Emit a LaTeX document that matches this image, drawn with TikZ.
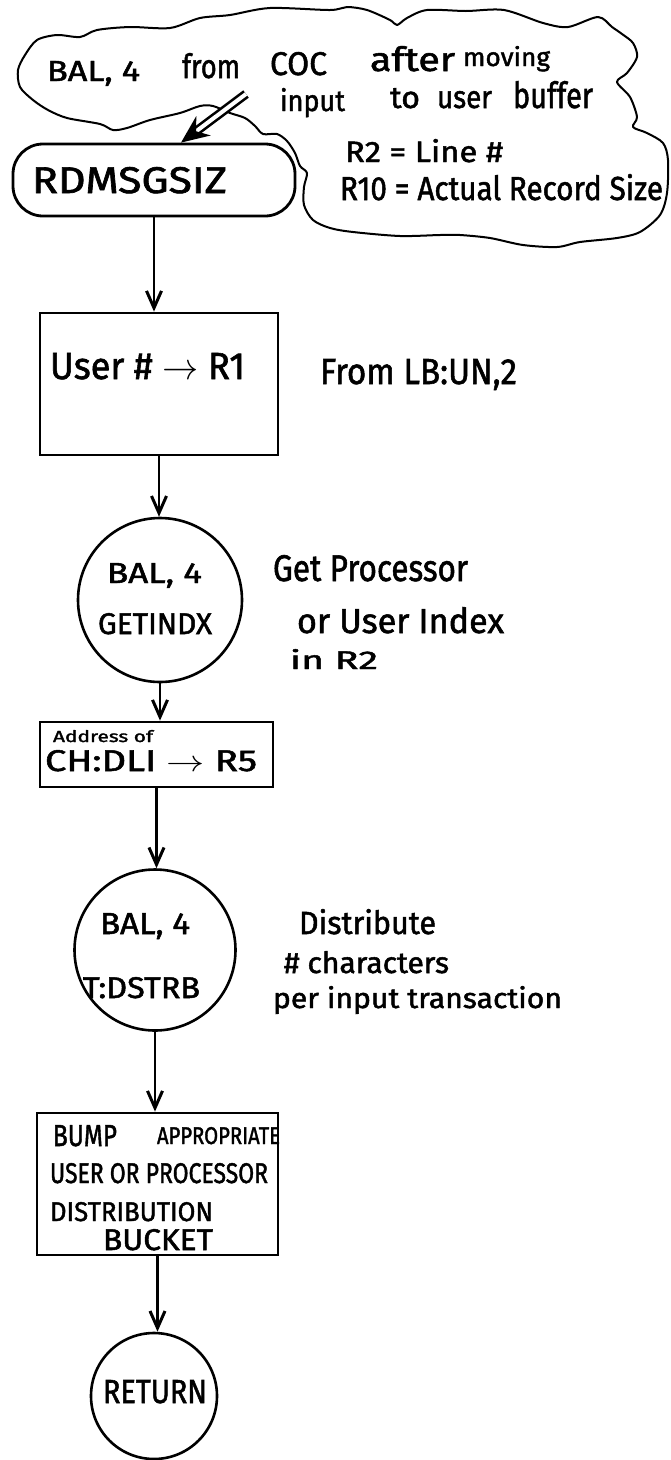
\documentclass[tikz,border=0pt]{standalone}
\usepackage{fontspec}
\setmainfont{Fira Sans}[AutoFakeBold=1.6]
\usepackage{graphicx}
\usetikzlibrary{arrows.meta,calc}
\tikzset{
  box/.style={draw, line width=2.8pt, inner sep=0pt},
  conn/.style={draw, line width=2.6pt, circle, inner sep=0pt},
  flow/.style={line width=2.6pt, -{Straight Barb[length=17pt,width=15pt,line width=3pt]}},
  lbl/.style={anchor=base west, inner sep=0pt, outer sep=0pt, font=\bfseries},
  cloudline/.style={line width=2pt, line join=round},
  callin/.style={line width=2.6pt, double distance=4pt, -{Stealth[length=28pt,width=24pt]}}
}
\newcommand\fitt[3]{\resizebox{#1pt}{#2pt}{#3}}
\begin{document}
\begin{tikzpicture}[x=1pt,y=-1pt]
\useasboundingbox (0,0) rectangle (670,1460);

% cloud
\draw[cloudline] plot[smooth cycle, tension=0.5] coordinates {
 (25,55) (37,40) (57,35) (80,37) (97,30) (130,27) (170,28) (200,18) (230,15)
 (270,8) (330,10) (347,7) (367,10) (390,20) (397,25) (407,18) (427,10) (466,11)
 (504,10) (543,23) (568,27) (598,17) (612,27) (622,34) (633,43) (637,57) (627,73)
 (617,82) (630,97) (637,117) (633,127) (647,133) (663,143) (668,160) (667,193)
 (660,215) (640,232) (617,238) (580,242) (557,247) (523,245) (490,238) (460,235)
 (440,235) (400,236) (353,232) (330,228) (313,220) (304,205) (304,187) (307,173)
 (300,166) (295,153) (287,141) (277,134) (263,134) (255,126) (245,118) (230,113)
 (213,106) (200,106) (180,113) (150,120) (127,128) (113,130) (100,124) (67,118)
 (48,110) (33,100) (20,87) (18,70)};

% cloud texts
\node[lbl] (c1) at (47,81) {\fitt{93}{20}{BAL, 4}};
\node[lbl] (c2) at (182,78) {\fitt{58}{25}{from}};
\node[lbl] (c3) at (270,75) {\fitt{57}{23}{COC}};
\node[lbl] (c4) at (370,71) {\fitt{85}{25}{after}};
\node[lbl] (c5) at (463,66) {\fitt{87}{20}{moving}};
\node[lbl] (c6) at (280,111) {\fitt{65}{23}{input}};
\node[lbl] (c7) at (390,108) {\fitt{30}{20}{to}};
\node[lbl] (c8) at (437,108) {\fitt{55}{17}{user}};
\node[lbl] (c9) at (513,108) {\fitt{80}{27}{buffer}};
\node[lbl] (c10) at (345,162) {\fitt{158}{23}{R2 = Line \#}};
\node[lbl] (c11) at (340,200) {\fitt{323}{26}{R10 = Actual Record Size}};

% flow nodes
\node[box, rounded corners=30pt, minimum width=282pt, minimum height=72pt] (start) at (154,180) {};
\node[box, minimum width=238pt, minimum height=142pt] (user) at (159,384) {};
\node[conn, minimum size=164pt] (getidx) at (160,600) {};
\node[box, minimum width=233pt, minimum height=65pt] (dli) at (156.5,754.5) {};
\node[conn, minimum size=161pt] (dstrb) at (155,950) {};
\node[box, minimum width=241pt, minimum height=142pt] (bump) at (157.5,1184) {};
\node[conn, minimum size=126pt] (ret) at (154,1396) {};

% texts in/near nodes
\node[lbl] (tstart) at (32,193) {\fitt{195}{26}{RDMSGSIZ}};
\node[lbl] (tuser) at (50,379) {\fitt{195}{26}{User \# $\rightarrow$ R1}};
\node[lbl] (nuser) at (320,384) {\fitt{197}{25}{From LB:UN,2}};
\node[lbl] (tg1) at (107,583) {\fitt{95}{20}{BAL, 4}};
\node[lbl] (tg2) at (98,634) {\fitt{114}{21}{GETINDX}};
\node[lbl] (ng1) at (273,581) {\fitt{195}{26}{Get Processor}};
\node[lbl] (ng2) at (297,633) {\fitt{207}{26}{or User Index}};
\node[lbl] (ng3) at (290,669) {\fitt{88}{20}{in R2}};
\node[lbl] (td1) at (53,742) {\fitt{100}{12}{Address of}};
\node[lbl] (td2) at (45,771) {\fitt{212}{21}{CH:DLI $\rightarrow$ R5}};
\node[lbl] (ts1) at (100,934) {\fitt{90}{21}{BAL, 4}};
\node[lbl] (ts2) at (83,998) {\fitt{117}{21}{T:DSTRB}};
\node[lbl] (ns1) at (299,934) {\fitt{137}{25}{Distribute}};
\node[lbl] (ns2) at (284,973) {\fitt{165}{22}{\# characters}};
\node[lbl] (ns3) at (273,1008) {\fitt{289}{22}{per input transaction}};
\node[lbl] (tb1) at (53,1146) {\fitt{64}{21}{BUMP}};
\node[lbl] (tb2) at (157,1144) {\fitt{123}{17}{APPROPRIATE}};
\node[lbl] (tb3) at (50,1183) {\fitt{218}{20}{USER OR PROCESSOR}};
\node[lbl] (tb4) at (50,1221) {\fitt{163}{19}{DISTRIBUTION}};
\node[lbl] (tb5) at (103,1250) {\fitt{110}{21}{BUCKET}};
\node[lbl] (tr) at (103,1403) {\fitt{104}{23}{RETURN}};

% connectors
\coordinate (ctail) at (246,94);
\draw[callin] (ctail) -- ([xshift=27pt]start.north);
\draw[flow] (start.south) -- (start.south |- user.north);
\draw[flow] (user.south) -- (user.south |- getidx.north);
\draw[flow] (getidx.south) -- (getidx.south |- dli.north);
\draw[flow] (dli.south) -- (dli.south |- dstrb.north);
\draw[flow] (dstrb.south) -- (dstrb.south |- bump.north);
\draw[flow] (bump.south) -- (bump.south |- ret.north);
\end{tikzpicture}
\end{document}
